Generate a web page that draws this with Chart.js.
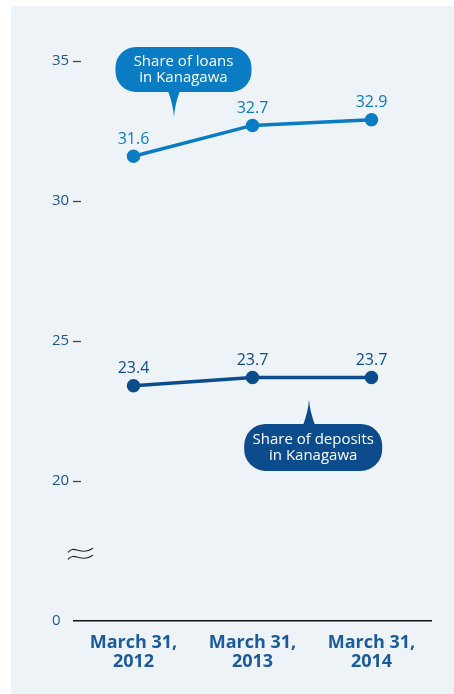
<!DOCTYPE html>
<html>
<head>
<meta charset="utf-8">
<script src="https://cdn.jsdelivr.net/npm/chart.js@4.4.1/dist/chart.umd.min.js"></script>
<style>
  html, body { margin: 0; padding: 0; background: #fff; }
  #wrap { width: 454px; height: 694px; }
</style>
</head>
<body>
<div id="wrap"><canvas id="shareChart" width="454" height="694"></canvas></div>
<script>
// Share of loans / deposits in Kanagawa (%)
var categories = [['March 31,', '2012'], ['March 31,', '2013'], ['March 31,', '2014']];
var loanShare = [31.6, 32.7, 32.9];
var depositShare = [23.4, 23.7, 23.7];
var yTicks = [15, 20, 25, 30, 35];   // 15 sits on the axis break and reads "0"

var loanColor = '#0a7cc4';
var depositColor = '#0c4c8d';
var tickColor = '#1d5596';
var fontFamily = '"Open Sans", "Noto Sans", sans-serif';

// panel background, axis break mark and tick dashes
var decorPlugin = {
    id: 'decor',
    beforeDraw: function (chart) {
        var ctx = chart.ctx;
        ctx.save();
        ctx.fillStyle = '#ffffff';
        ctx.fillRect(0, 0, chart.width, chart.height);
        ctx.fillStyle = '#eef3f8';
        ctx.fillRect(11, 6, chart.width - 11, chart.height - 6);
        ctx.restore();
    },
    afterDraw: function (chart) {
        var ctx = chart.ctx;
        var y = chart.scales.y;
        var left = chart.chartArea.left;
        ctx.save();
        ctx.strokeStyle = '#444';
        ctx.lineWidth = 1.3;
        yTicks.forEach(function (v) {
            if (v === yTicks[0]) return;
            var py = Math.round(y.getPixelForValue(v)) + 0.5;
            ctx.beginPath();
            ctx.moveTo(left - 1, py);
            ctx.lineTo(left + 7, py);
            ctx.stroke();
        });
        // wavy break sign between 0 and 20: two thin tildes
        var by = y.getPixelForValue(17.4);
        ctx.strokeStyle = '#222';
        ctx.lineWidth = 1.1;
        [-3.5, 3.5].forEach(function (dy) {
            var yy = by + dy;
            ctx.beginPath();
            ctx.moveTo(left - 6, yy + 2);
            ctx.bezierCurveTo(left, yy - 6, left + 7, yy + 6, left + 19, yy - 2);
            ctx.stroke();
        });
        ctx.restore();
    }
};

// value labels above each point
var valueLabels = {
    id: 'valueLabels',
    afterDatasetsDraw: function (chart) {
        var ctx = chart.ctx;
        ctx.save();
        ctx.font = '16px ' + fontFamily;
        ctx.textAlign = 'center';
        ctx.textBaseline = 'middle';
        chart.data.datasets.forEach(function (ds, i) {
            var meta = chart.getDatasetMeta(i);
            ctx.fillStyle = ds.borderColor;
            meta.data.forEach(function (pt, j) {
                ctx.fillText(ds.data[j].toFixed(1), pt.x, pt.y - 17);
            });
        });
        ctx.restore();
    }
};

// speech-bubble callouts naming each line
function drawBubble(ctx, cx, cy, w, h, tipX, tipY, color, lines) {
    var r = h / 2 - 2;
    var x0 = cx - w / 2, y0 = cy - h / 2;
    ctx.fillStyle = color;
    ctx.beginPath();
    ctx.roundRect(x0, y0, w, h, r);
    ctx.fill();
    var baseY = tipY > cy ? y0 + h - 1 : y0 + 1;
    ctx.beginPath();
    ctx.moveTo(tipX - 6, baseY);
    ctx.quadraticCurveTo(tipX - 1, (baseY + tipY) / 2, tipX, tipY);
    ctx.quadraticCurveTo(tipX + 1, (baseY + tipY) / 2, tipX + 6, baseY);
    ctx.closePath();
    ctx.fill();
    ctx.fillStyle = '#ffffff';
    ctx.font = '15px ' + fontFamily;
    ctx.textAlign = 'center';
    ctx.textBaseline = 'middle';
    ctx.fillText(lines[0], cx, cy - 8);
    ctx.fillText(lines[1], cx, cy + 8);
}

var calloutPlugin = {
    id: 'callouts',
    afterDraw: function (chart) {
        var ctx = chart.ctx;
        var x = chart.scales.x, y = chart.scales.y;
        var step = x.getPixelForValue(1) - x.getPixelForValue(0);
        ctx.save();
        drawBubble(ctx,
            x.getPixelForValue(0) + step * 0.42, y.getPixelForValue(34.7), 136, 45,
            x.getPixelForValue(0) + step * 0.34, y.getPixelForValue(33.0),
            loanColor, ['Share of loans', 'in Kanagawa']);
        drawBubble(ctx,
            x.getPixelForValue(1) + step * 0.51, y.getPixelForValue(21.2), 138, 47,
            x.getPixelForValue(1) + step * 0.475, y.getPixelForValue(22.9),
            depositColor, ['Share of deposits', 'in Kanagawa']);
        ctx.restore();
    }
};

var ctx = document.getElementById('shareChart').getContext('2d');
var shareChart = new Chart(ctx, {
    type: 'line',
    data: {
        labels: categories,
        datasets: [{
            label: 'Share of loans in Kanagawa',
            data: loanShare,
            borderColor: loanColor,
            backgroundColor: loanColor,
            borderWidth: 3.5,
            pointRadius: 5,
            pointHoverRadius: 5,
            tension: 0
        }, {
            label: 'Share of deposits in Kanagawa',
            data: depositShare,
            borderColor: depositColor,
            backgroundColor: depositColor,
            borderWidth: 3.5,
            pointRadius: 5,
            pointHoverRadius: 5,
            tension: 0
        }]
    },
    options: {
        responsive: false,
        animation: false,
        layout: { padding: { left: 52, right: 23, top: 33, bottom: 0 } },
        plugins: {
            legend: { display: false },
            title: { display: false },
            tooltip: { enabled: false }
        },
        scales: {
            x: {
                offset: true,
                grid: { display: false, drawTicks: false },
                border: { display: true, color: '#111', width: 1.5 },
                ticks: {
                    padding: 12,
                    color: '#1b5a9b',
                    font: { family: fontFamily, size: 18, weight: 'bold', lineHeight: 1.06 },
                    maxRotation: 0
                },
                afterFit: function (scale) { scale.height = 73; }
            },
            y: {
                min: 15,
                max: 36,
                grid: { display: false, drawTicks: false },
                border: { display: false },
                afterBuildTicks: function (scale) {
                    scale.ticks = yTicks.map(function (v) { return { value: v }; });
                },
                afterFit: function (scale) { scale.width = 22; },
                ticks: {
                    crossAlign: 'far',
                    color: tickColor,
                    font: { family: fontFamily, size: 15 },
                    callback: function (v) { return v === 15 ? '0' : v; }
                }
            }
        }
    },
    plugins: [decorPlugin, valueLabels, calloutPlugin]
});
</script>
</body>
</html>
